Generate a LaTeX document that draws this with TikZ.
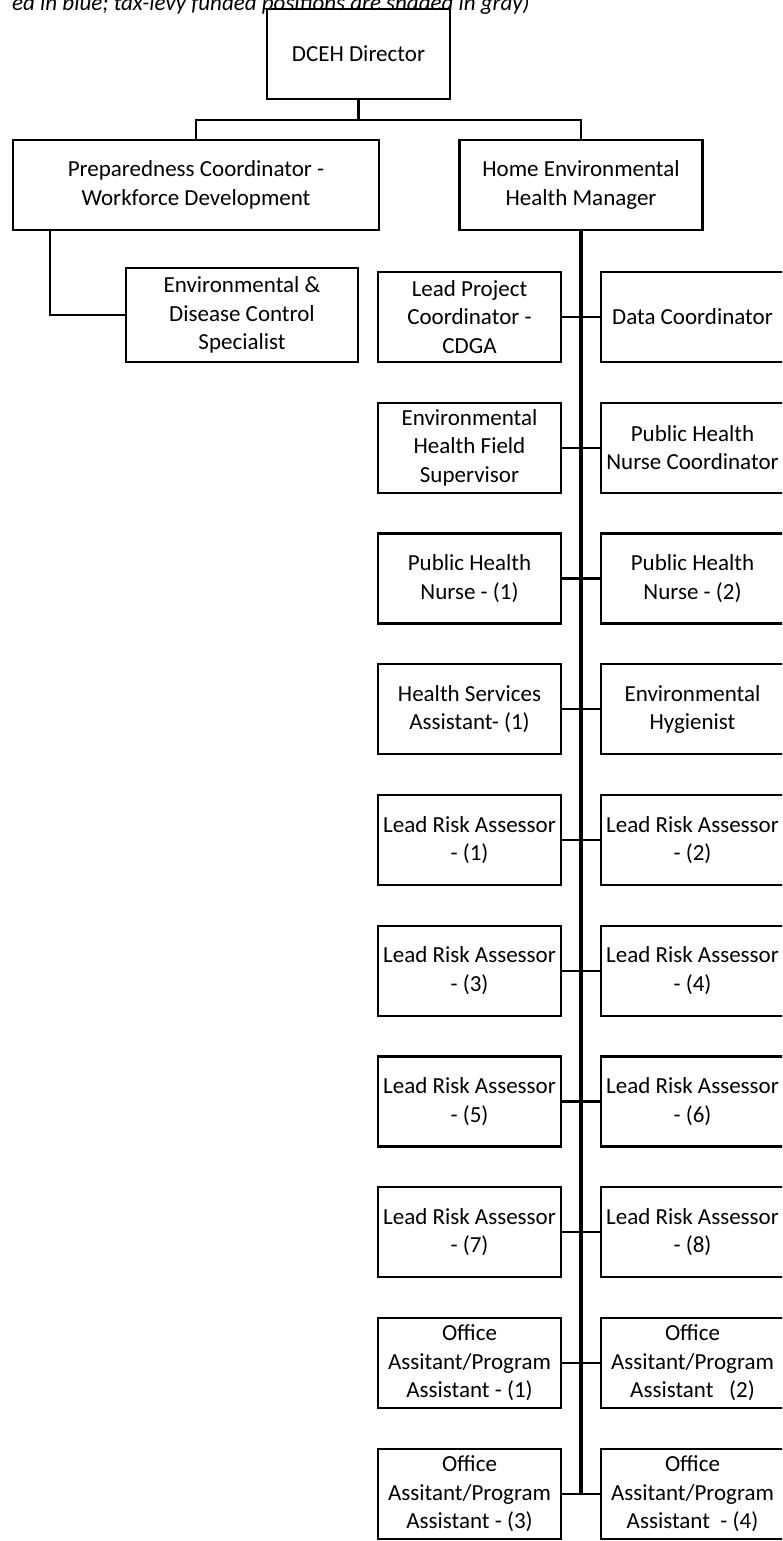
\documentclass[tikz,border=0pt]{standalone}
\usepackage{fontspec}
\setmainfont{Carlito}
\usetikzlibrary{calc}
\begin{document}
\begin{tikzpicture}[x=1pt,y=-1pt,
  box/.style={draw, line width=2.2pt, minimum width=183pt, minimum height=90pt, inner sep=0pt, align=center, font=\fontsize{23}{28.5}\selectfont},
  link/.style={line width=2.2pt},
  trunk/.style={line width=3.6pt}]
\useasboundingbox (0,0) rectangle (782,1541);
\clip (0,0) rectangle (782,1541);

\node[anchor=base east, inner sep=0pt, font=\fontsize{23}{28}\selectfont\itshape] (note) at (530,10.5) {ed in blue; tax-levy funded positions are shaded in gray)};

\node[box] (dir) at (358.5,54) {DCEH Director};
\node[box, minimum width=366pt] (prep) at (196,185) {Preparedness Coordinator -\\Workforce Development};
\node[box, minimum width=243pt] (home) at (581,185) {Home Environmental\\Health Manager};
\node[box, minimum width=232pt, minimum height=94pt] (env) at (242,315) {Environmental \&\\Disease Control\\Specialist};

\foreach \k/\lt/\rt in {
  0/{Lead Project\\Coordinator -\\CDGA}/{Data Coordinator},
  1/{Environmental\\Health Field\\Supervisor}/{Public Health\\Nurse Coordinator},
  2/{Public Health\\Nurse - (1)}/{Public Health\\Nurse - (2)},
  3/{Health Services\\Assistant- (1)}/{Environmental\\Hygienist},
  4/{Lead Risk Assessor\\- (1)}/{Lead Risk Assessor\\- (2)},
  5/{Lead Risk Assessor\\- (3)}/{Lead Risk Assessor\\- (4)},
  6/{Lead Risk Assessor\\- (5)}/{Lead Risk Assessor\\- (6)},
  7/{Lead Risk Assessor\\- (7)}/{Lead Risk Assessor\\- (8)},
  8/{Office\\Assitant/Program\\Assistant - (1)}/{Office\\Assitant/Program\\Assistant\ \ \ (2)},
  9/{Office\\Assitant/Program\\Assistant - (3)}/{Office\\Assitant/Program\\Assistant\ \ - (4)}} {
  \pgfmathsetmacro{\cy}{317+\k*130.75}
  \node[box] (L\k) at (469.5,\cy) {\lt};
  \node[box] (R\k) at (692.5,\cy) {\rt};
}

% connectors
\draw[link] (dir.south) -- ++(0,20) coordinate (hub);
\draw[link] (prep.north) -- (prep.north |- hub) -- (home.north |- hub) -- (home.north);
\draw[link] ($(prep.south west)+(38,0)$) |- (env.west);
\coordinate (tend) at (home.south |- L9.east);
\draw[trunk] (home.south) -- (tend);
\foreach \k in {0,...,9} {
  \draw[link] (L\k.east) -- (R\k.west);
}
\end{tikzpicture}
\end{document}
